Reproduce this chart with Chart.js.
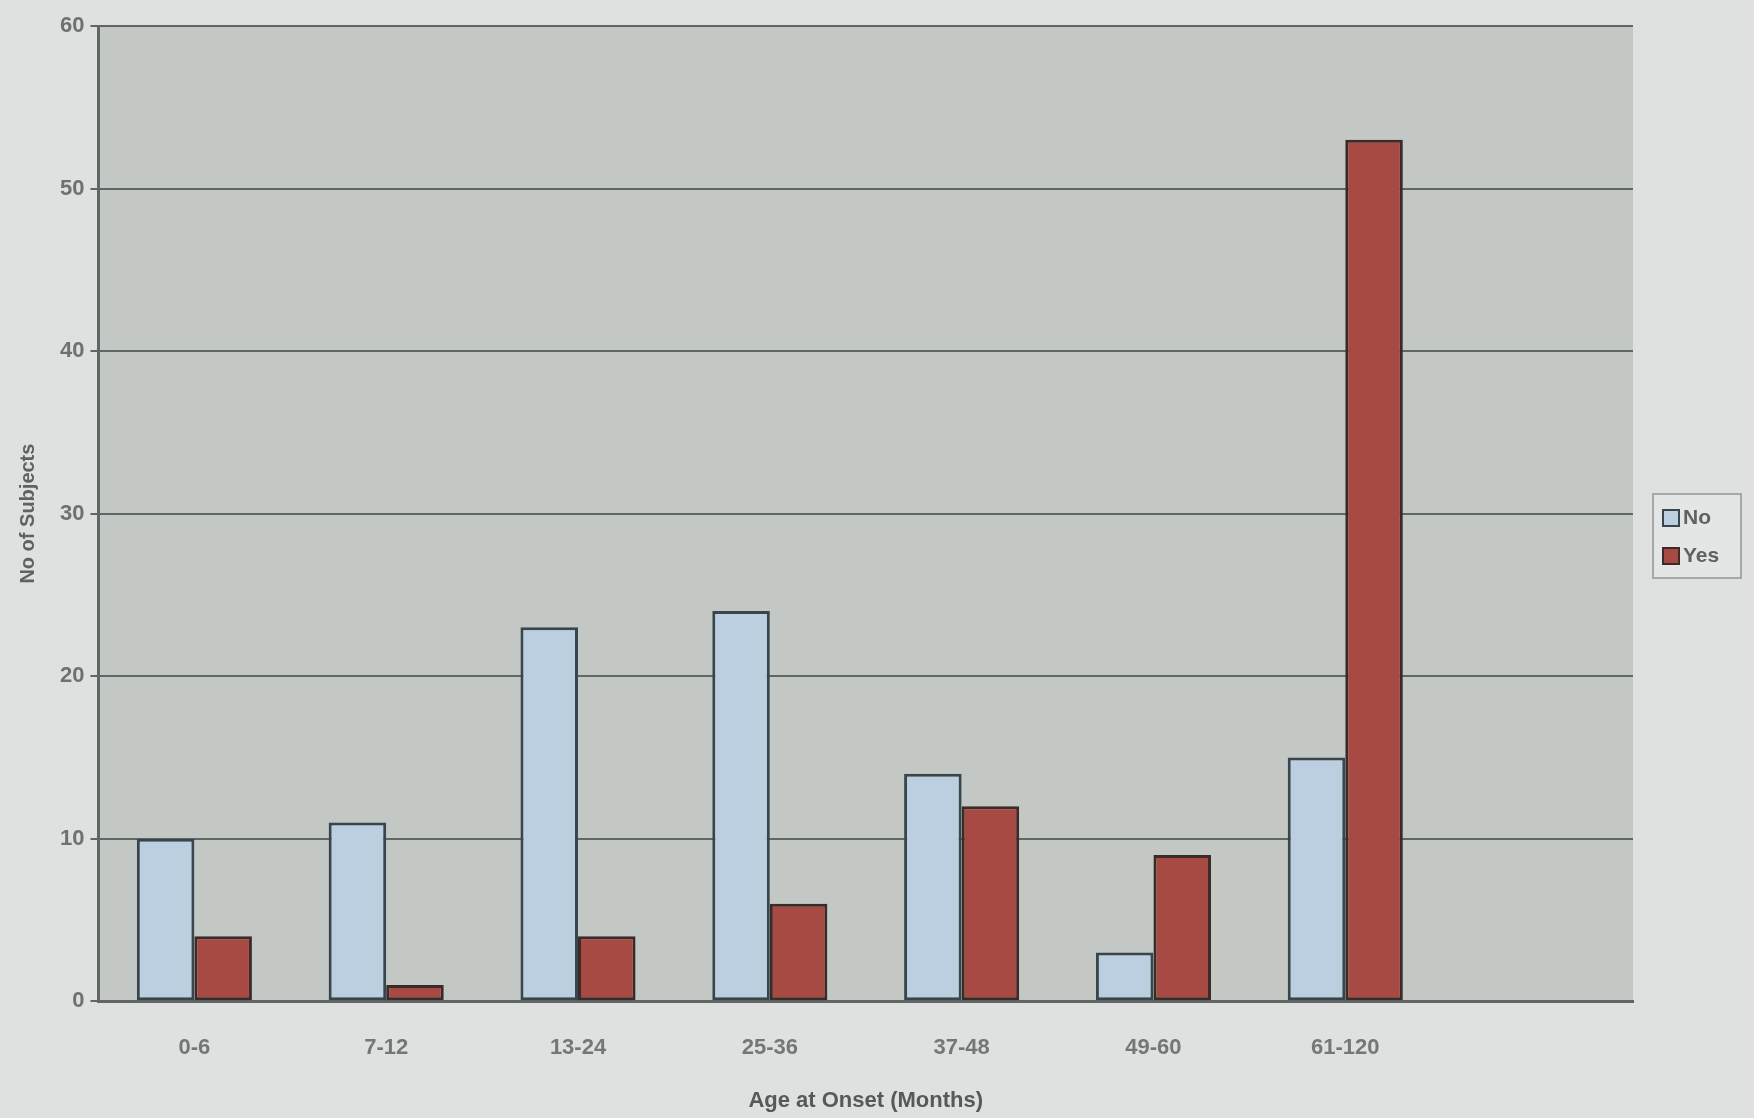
<!DOCTYPE html>
<html>
<head>
<meta charset="utf-8">
<script src="https://cdn.jsdelivr.net/npm/chart.js@4.4.1/dist/chart.umd.min.js"></script>
<style>
  html, body { margin: 0; padding: 0; background: #dfe1e0; }
  #wrap { width: 1754px; height: 1118px; position: relative; }
</style>
</head>
<body>
<div id="wrap"><canvas id="onsetChart"></canvas></div>
<script>
// Age at onset chart data
const categories = ['0-6', '7-12', '13-24', '25-36', '37-48', '49-60', '61-120', ''];
const noValues = [10, 11, 23, 24, 14, 3, 15, null];
const yesValues = [4, 1, 4, 6, 12, 9, 53, null];
const yTicks = [0, 10, 20, 30, 40, 50, 60];

Chart.defaults.font.family = "'Liberation Sans', Arial, sans-serif";
Chart.defaults.color = '#6d7172';
Chart.defaults.font.weight = 'bold';

// plot area fill + a small boxed legend right of the plot
const plotBackground = {
    id: 'plotBackground',
    beforeDraw(chart) {
        const { ctx, chartArea } = chart;
        ctx.save();
        ctx.fillStyle = '#c3c8c5';
        ctx.fillRect(chartArea.left, chartArea.top, chartArea.right - chartArea.left, chartArea.bottom - chartArea.top);
        ctx.restore();
    },
    afterDraw(chart) {
        const { ctx, chartArea } = chart;
        const x = chartArea.right + 20;
        const y = 494;
        ctx.save();
        ctx.fillStyle = '#e4e6e5';
        ctx.fillRect(x, y, 88, 84);
        ctx.strokeStyle = '#a4a8a7';
        ctx.lineWidth = 2;
        ctx.strokeRect(x, y, 88, 84);
        ctx.font = "bold 21px 'Liberation Sans', Arial, sans-serif";
        ctx.textBaseline = 'middle';
        chart.data.datasets.forEach((ds, i) => {
            const cy = y + 24 + i * 38;
            ctx.fillStyle = ds.backgroundColor;
            ctx.strokeStyle = ds.borderColor;
            ctx.lineWidth = 2;
            ctx.fillRect(x + 10, cy - 8, 16, 16);
            ctx.strokeRect(x + 10, cy - 8, 16, 16);
            ctx.fillStyle = '#5e6263';
            ctx.fillText(ds.label, x + 30, cy);
        });
        ctx.restore();
    }
};

new Chart(document.getElementById('onsetChart'), {
    type: 'bar',
    data: {
        labels: categories,
        datasets: [{
            label: 'No',
            data: noValues,
            backgroundColor: '#bccfe0',
            borderColor: '#37464c',
            borderWidth: 3,
            borderSkipped: false
        }, {
            label: 'Yes',
            data: yesValues,
            backgroundColor: '#a64a43',
            borderColor: '#3a2a28',
            borderWidth: 3,
            borderSkipped: false
        }]
    },
    options: {
        responsive: true,
        maintainAspectRatio: false,
        animation: false,
        datasets: {
            bar: { categoryPercentage: 0.6, barPercentage: 1.0 }
        },
        layout: { padding: { top: 26, right: 121, bottom: 0, left: 12 } },
        plugins: {
            legend: { display: false },
            title: { display: false },
            tooltip: { enabled: false }
        },
        scales: {
            y: {
                min: 0,
                max: 60,
                afterBuildTicks(axis) { axis.ticks = yTicks.map(v => ({ value: v })); },
                grid: { color: '#5f6664', lineWidth: 2, drawTicks: true, tickLength: 8 },
                border: { color: '#5f6664', width: 3 },
                ticks: { font: { size: 22, weight: 'bold' }, color: '#6d7172', padding: 6 },
                title: {
                    display: true,
                    text: 'No of Subjects',
                    font: { size: 20, weight: 'bold' },
                    color: '#5e6263',
                    padding: { bottom: 14 }
                }
            },
            x: {
                grid: { display: false, drawTicks: true },
                border: { color: '#5f6664', width: 3 },
                ticks: { font: { size: 22, weight: 'bold' }, color: '#737778', padding: 26 },
                title: {
                    display: true,
                    text: 'Age at Onset (Months)',
                    font: { size: 22, weight: 'bold' },
                    color: '#55595a',
                    padding: { top: 0, bottom: 4 }
                }
            }
        }
    },
    plugins: [plotBackground]
});
</script>
</body>
</html>
